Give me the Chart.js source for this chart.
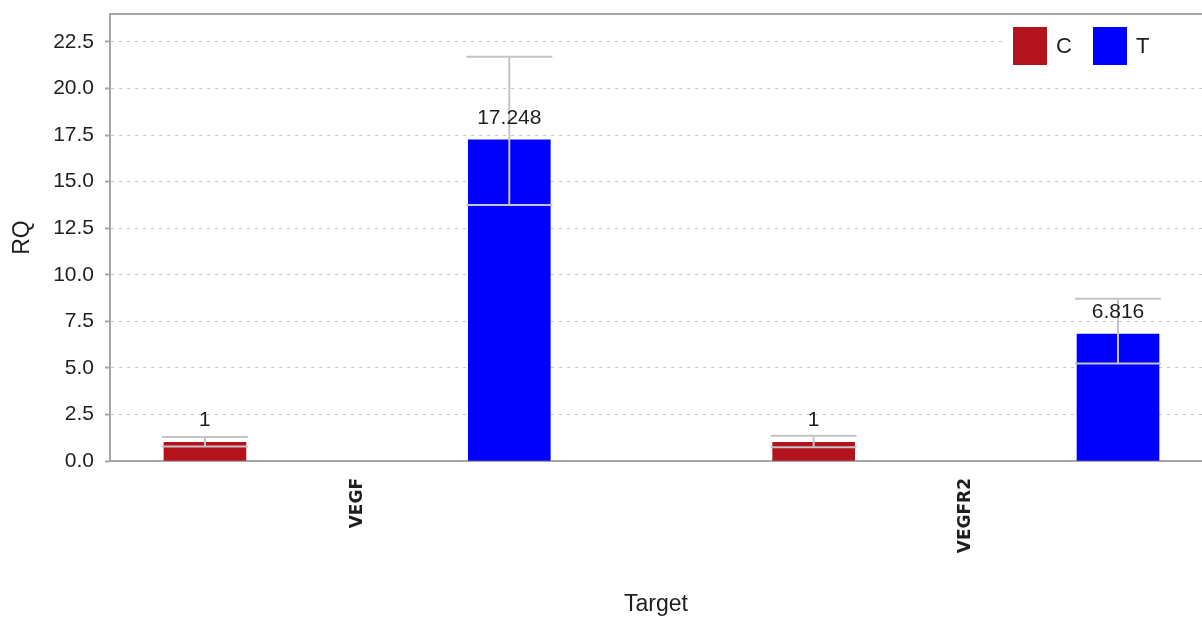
<!DOCTYPE html>
<html>
<head>
<meta charset="utf-8">
<script src="https://cdn.jsdelivr.net/npm/chart.js@4"></script>
<style>
  html, body { margin: 0; padding: 0; background: #fff; }
  #wrap { width: 1202px; height: 622px; }
</style>
</head>
<body>
<div id="wrap"><canvas id="rqChart"></canvas></div>
<script>
// 値データ
const targets = ['VEGF', 'VEGFR2'];
const seriesNames = ['C', 'T'];
const cValues = [1, 1];
const tValues = [17.248, 6.816];
const cErrLow = [0.78, 0.74];
const cErrHigh = [1.29, 1.35];
const tErrLow = [13.75, 5.23];
const tErrHigh = [21.7, 8.71];
const yTicks = [0, 2.5, 5, 7.5, 10, 12.5, 15, 17.5, 20, 22.5];

const COLORS = ['#b3131d', '#0000ff'];
const TEXT = '#1e1e1e';
const AXIS = '#a6a6a6';

// 各ターゲットに C, T の2本（x位置はインデックスから）
function toPoints(values, slot) {
    return values.map((v, i) => ({ x: i * 2 + slot, y: v }));
}

const errors = [
    { low: cErrLow, high: cErrHigh },
    { low: tErrLow, high: tErrHigh }
];

const errorBarPlugin = {
    id: 'errorBars',
    afterDatasetsDraw(chart) {
        const ctx = chart.ctx;
        const yScale = chart.scales.y;
        chart.data.datasets.forEach((ds, di) => {
            const meta = chart.getDatasetMeta(di);
            meta.data.forEach((bar, i) => {
                const x = bar.x;
                const half = bar.width / 2 + 2;
                const yLo = yScale.getPixelForValue(errors[di].low[i]);
                const yHi = yScale.getPixelForValue(errors[di].high[i]);
                ctx.save();
                ctx.strokeStyle = '#c4c4c4';
                ctx.lineWidth = 2;
                ctx.beginPath();
                ctx.moveTo(x, yLo);
                ctx.lineTo(x, yHi);
                ctx.moveTo(x - half, yLo);
                ctx.lineTo(x + half, yLo);
                ctx.moveTo(x - half, yHi);
                ctx.lineTo(x + half, yHi);
                ctx.stroke();
                ctx.restore();
            });
        });
        // 値ラベル
        chart.data.datasets.forEach((ds, di) => {
            const meta = chart.getDatasetMeta(di);
            meta.data.forEach((bar, i) => {
                ctx.save();
                ctx.fillStyle = TEXT;
                ctx.font = '21px "Liberation Sans", Arial, sans-serif';
                ctx.textAlign = 'center';
                ctx.textBaseline = 'middle';
                ctx.fillText(String(ds.data[i].y), bar.x, bar.y - 22);
                ctx.restore();
            });
        });
    }
};

const frameLegendPlugin = {
    id: 'frameLegend',
    beforeDatasetsDraw(chart) {
        const ctx = chart.ctx;
        const area = chart.chartArea;
        ctx.save();
        // 上枠線
        ctx.strokeStyle = AXIS;
        ctx.lineWidth = 2;
        ctx.beginPath();
        ctx.moveTo(area.left, area.top);
        ctx.lineTo(area.right, area.top);
        ctx.stroke();
        // 凡例（白背景）
        ctx.fillStyle = '#fff';
        ctx.fillRect(1005, area.top + 2, area.right - 1005, 70);
        ctx.font = '22px "Liberation Sans", Arial, sans-serif';
        ctx.textBaseline = 'middle';
        chart.data.datasets.forEach((ds, di) => {
            const x0 = 1013 + di * 80;
            ctx.fillStyle = ds.backgroundColor;
            ctx.fillRect(x0, 27, 34, 38);
            ctx.fillStyle = TEXT;
            ctx.fillText(ds.label, x0 + 43, 47);
        });
        ctx.restore();
    }
};

new Chart(document.getElementById('rqChart'), {
    type: 'bar',
    data: {
        datasets: [
            { label: seriesNames[0], data: toPoints(cValues, 0), backgroundColor: COLORS[0] },
            { label: seriesNames[1], data: toPoints(tValues, 1), backgroundColor: COLORS[1] }
        ]
    },
    options: {
        responsive: true,
        maintainAspectRatio: false,
        animation: false,
        grouped: false,
        barThickness: 82,
        layout: { padding: { top: 14, right: 0, left: 0, bottom: 0 } },
        plugins: {
            legend: { display: false },
            tooltip: { enabled: false }
        },
        scales: {
            x: {
                type: 'linear',
                offset: false,
                min: -0.312,
                max: 3.276,
                grid: { display: false, drawTicks: false },
                border: { display: true, color: AXIS, width: 2 },
                afterBuildTicks(scale) {
                    scale.ticks = targets.map((t, i) => ({ value: i * 2 + 0.5 }));
                },
                afterFit(scale) {
                    scale.height = 161;
                    scale.paddingLeft = 0;
                    scale.paddingRight = 0;
                },
                ticks: {
                    minRotation: 90,
                    maxRotation: 90,
                    padding: 17,
                    color: TEXT,
                    font: { family: '"DejaVu Sans", sans-serif', size: 17, weight: 'bold' },
                    callback(value) {
                        const idx = Math.round((value - 0.5) / 2);
                        return targets[idx] ?? '';
                    }
                },
                title: {
                    display: true,
                    text: 'Target',
                    color: TEXT,
                    font: { family: '"Liberation Sans", Arial, sans-serif', size: 23 },
                    padding: { top: 0, bottom: 4 }
                }
            },
            y: {
                min: 0,
                max: 24,
                afterBuildTicks(scale) {
                    scale.ticks = yTicks.map(v => ({ value: v }));
                },
                afterFit(scale) {
                    scale.width = 110;
                    scale.paddingTop = 0;
                    scale.paddingBottom = 0;
                },
                grid: {
                    color: '#c6c6c6',
                    tickColor: AXIS,
                    tickLength: 5,
                    tickWidth: 2
                },
                border: { display: true, color: AXIS, width: 2, dash: [3, 5] },
                ticks: {
                    padding: 11,
                    color: TEXT,
                    font: { family: '"Liberation Sans", Arial, sans-serif', size: 21 },
                    callback(value) { return value.toFixed(1); }
                },
                title: {
                    display: true,
                    text: 'RQ',
                    color: TEXT,
                    font: { family: '"Liberation Sans", Arial, sans-serif', size: 23 },
                    padding: { top: 9, bottom: 0 }
                }
            }
        }
    },
    plugins: [errorBarPlugin, frameLegendPlugin]
});
</script>
</body>
</html>
